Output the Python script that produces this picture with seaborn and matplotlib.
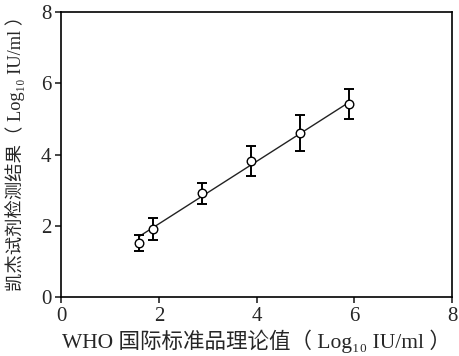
import numpy as np
import pandas as pd
import matplotlib
matplotlib.use("Agg")
import matplotlib.pyplot as plt
import seaborn as sns

# data
who_x = [1.60, 1.89, 2.89, 3.89, 4.89, 5.90]
qiagen_y = [1.51, 1.91, 2.91, 3.82, 4.60, 5.42]
y_err = [0.23, 0.31, 0.29, 0.42, 0.50, 0.43]
fit_x = [1.60, 5.85]
fit_y = [1.70, 5.43]
ticks = [0, 2, 4, 6, 8]

sns.set_style("ticks")
plt.rcParams['font.family'] = ['Liberation Serif', 'Noto Sans CJK SC', 'DejaVu Serif']

df = pd.DataFrame({'x': who_x, 'y': qiagen_y, 'err': y_err})
fit = pd.DataFrame({'x': fit_x, 'y': fit_y})

fig = plt.figure(figsize=(4.59, 3.56), dpi=100)
ax = fig.add_axes([0.133, 0.166, 0.852, 0.800])

sns.lineplot(data=fit, x='x', y='y', color='#222222', linewidth=1.0, ax=ax)
ax.errorbar(df['x'], df['y'], yerr=df['err'], fmt='none', ecolor='black',
            elinewidth=1.4, capsize=3.5, capthick=1.4)
sns.scatterplot(data=df, x='x', y='y', marker='o', s=38, facecolor='white',
                edgecolor='black', linewidth=1.0, ax=ax, zorder=3)

ax.set_xlim(0, 8)
ax.set_ylim(0, 8)
ax.set_xticks(ticks)
ax.set_yticks(ticks)
ax.tick_params(axis='both', direction='out', length=4, width=1.2, labelsize=15, pad=3)
for s in ax.spines.values():
    s.set_visible(True)
    s.set_linewidth(1.2)
    s.set_color('black')

ax.set_xlabel('WHO 国际标准品理论值（ Log₁₀ IU/ml ）', fontsize=15.5, labelpad=3)
ax.set_ylabel('凯杰试剂检测结果（ Log₁₀ IU/ml ）', fontsize=13.2)
ax.yaxis.set_label_coords(-0.093, 0.52)

fig.savefig('out.png', dpi=100)
